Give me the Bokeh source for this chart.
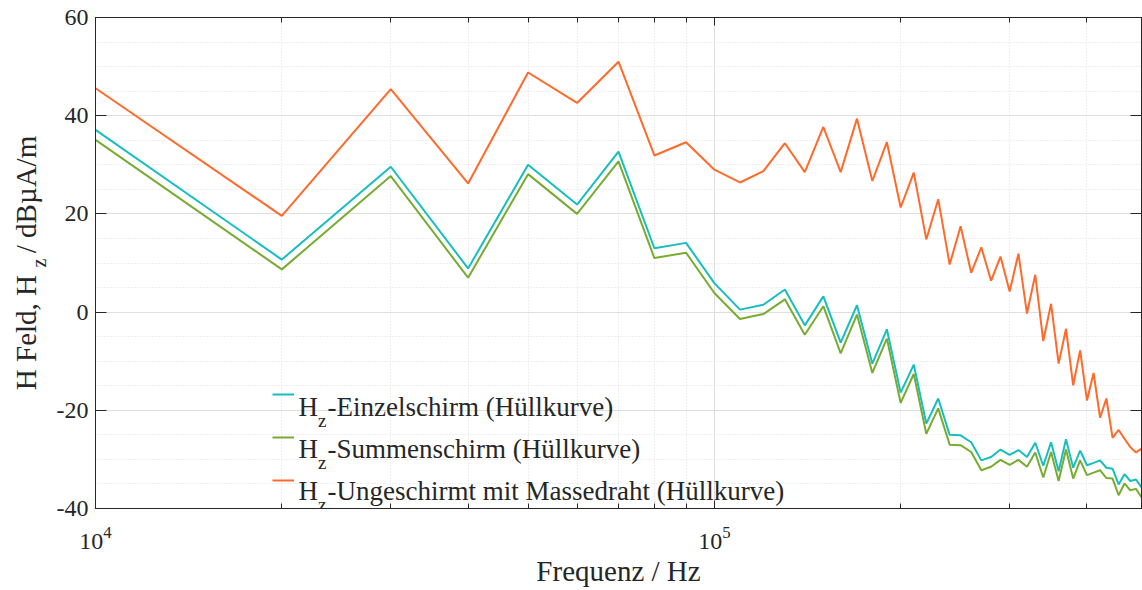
from bokeh.plotting import figure
from bokeh.models import (LogAxis, LinearAxis, Label, Legend, LegendItem,
                          FixedTicker, Range1d, CustomJSTickFormatter)
from bokeh.embed import file_html
from bokeh.resources import INLINE

# ---------------- data ----------------
freq_khz = [10, 20, 30, 40, 50, 60, 70, 80, 90, 100,
            110, 120, 130, 140, 150, 160, 170, 180, 190, 200,
            210, 220, 230, 240, 250, 260, 270, 280, 290, 300,
            310, 320, 330, 340, 350, 360, 370, 380, 390, 400,
            410, 420, 430, 440, 450, 460, 470, 480, 490]

einzelschirm = [37.1, 10.7, 29.6, 8.9, 30.0, 21.9, 32.7, 13.0, 14.1, 5.9,
                0.5, 1.5, 4.6, -2.7, 3.2, -6.2, 1.4, -10.5, -3.5, -16.4,
                -10.7, -22.7, -17.6, -25.0, -25.1, -26.5, -30.2, -29.5, -28.0, -29.1,
                -28.1, -29.5, -26.6, -31.3, -26.5, -32.4, -25.9, -31.7, -28.2, -31.2,
                -30.7, -30.2, -31.7, -31.9, -35.1, -33.0, -34.4, -34.1, -35.7]

summenschirm = [35.1, 8.7, 27.7, 7.0, 28.1, 20.0, 30.7, 11.0, 12.1, 3.9,
                -1.4, -0.4, 2.6, -4.6, 1.2, -8.4, -0.5, -12.4, -5.4, -18.5,
                -12.6, -24.8, -19.6, -27.0, -27.1, -28.5, -32.2, -31.5, -30.1, -31.1,
                -30.1, -31.5, -28.6, -33.7, -28.5, -34.4, -28.0, -33.9, -30.2, -33.2,
                -32.7, -32.2, -33.8, -33.9, -37.3, -34.9, -36.3, -36.0, -37.7]

ungeschirmt = [45.6, 19.6, 45.4, 26.2, 48.8, 42.6, 51.0, 31.9, 34.6, 29.0,
               26.4, 28.7, 34.4, 28.5, 37.7, 28.5, 39.4, 26.7, 34.6, 21.3,
               28.4, 14.8, 23.0, 9.7, 17.5, 8.0, 13.2, 6.4, 11.3, 4.2,
               11.9, -0.3, 7.6, -5.9, 1.7, -10.5, -3.4, -14.9, -7.8, -18.0,
               -12.4, -21.5, -17.6, -25.6, -24.0, -25.8, -27.5, -28.6, -27.8]

legend_main = ["H", "H", "H"]
legend_sub = ["z", "z", "z"]
legend_rest = ["-Einzelschirm (Hüllkurve)",
               "-Summenschirm (Hüllkurve)",
               "-Ungeschirmt mit Massedraht (Hüllkurve)"]
series_colors = ["#17BEBF", "#77AC30", "#FF6A2A"]

y_major_ticks = [-40, -20, 0, 20, 40, 60]
y_minor_ticks = [-35, -30, -25, -15, -10, -5, 5, 10, 15, 25, 30, 35, 45, 50, 55]
x_major_ticks = [1e4, 1e5]
x_minor_ticks = [2e4, 3e4, 4e4, 5e4, 6e4, 7e4, 8e4, 9e4, 2e5, 3e5, 4e5]

ylabel_main = "H Feld, H\u00a0\u00a0\u00a0/ dBµA/m"
ylabel_sub = "z"
xlabel = "Frequenz / Hz"

# ---------------- styles ----------------
FONT = "Liberation Serif"
TXT = "#262626"
GRID = "#DEDEDE"

freq_hz = [f * 1000 for f in freq_khz]

p = figure(width=1142, height=590, x_axis_type="log",
           x_range=Range1d(1e4, 4.9e5), y_range=Range1d(-40, 60),
           output_backend="svg", toolbar_location=None,
           min_border_left=95, min_border_right=1,
           min_border_top=17, min_border_bottom=82)
p.background_fill_color = "white"
p.border_fill_color = "white"
p.outline_line_color = TXT
p.outline_line_width = 1

xt = FixedTicker(ticks=x_major_ticks, minor_ticks=x_minor_ticks)
yt = FixedTicker(ticks=y_major_ticks, minor_ticks=y_minor_ticks)

xb = p.below[0]
xb.ticker = xt
yl = p.left[0]
yl.ticker = yt
yl.formatter = CustomJSTickFormatter(code="return String(tick)")

for ax in (xb, yl):
    ax.axis_line_color = TXT
    ax.major_tick_line_color = TXT
    ax.minor_tick_line_color = TXT
    ax.major_label_text_font = FONT
    ax.major_label_text_font_size = "24px"
    ax.major_label_text_color = TXT
    ax.major_tick_out = 0

xb.major_tick_in = 8
xb.minor_tick_in = 5
xb.minor_tick_out = 0
xb.major_label_standoff = 18
xb.axis_label = xlabel
xb.axis_label_text_font = FONT
xb.axis_label_text_font_size = "29px"
xb.axis_label_text_font_style = "normal"
xb.axis_label_text_color = TXT
xb.axis_label_standoff = 3

yl.major_tick_in = 11
yl.minor_tick_in = 0
yl.minor_tick_out = 0
yl.major_label_standoff = 7
# subscript "z" of the y label, carried by the inner axis
yl.axis_label = ylabel_sub
yl.axis_label_text_font = FONT
yl.axis_label_text_font_size = "20px"
yl.axis_label_text_font_style = "normal"
yl.axis_label_text_color = TXT
yl.axis_label_standoff = 4

# outer left axis carrying the main part of the y label
yl2 = LinearAxis(ticker=FixedTicker(ticks=[]),
                 formatter=CustomJSTickFormatter(code="return ''"),
                 axis_line_color=None, major_tick_line_color=None,
                 minor_tick_line_color=None,
                 major_tick_in=0, major_tick_out=0,
                 minor_tick_in=0, minor_tick_out=0,
                 major_label_standoff=0, major_label_text_font_size="1px",
                 axis_label=ylabel_main, axis_label_text_font=FONT,
                 axis_label_text_font_size="29px",
                 axis_label_text_font_style="normal",
                 axis_label_text_color=TXT, axis_label_standoff=-17)
p.add_layout(yl2, "left")

# top and right axes (box with inward ticks, no labels)
top_ax = LogAxis(ticker=xt, formatter=CustomJSTickFormatter(code="return ''"),
                 major_tick_in=8, major_tick_out=0,
                 minor_tick_in=5, minor_tick_out=0,
                 major_label_standoff=0, major_label_text_font_size="1px",
                 axis_line_color=TXT, major_tick_line_color=TXT,
                 minor_tick_line_color=TXT)
p.add_layout(top_ax, "above")
right_ax = LinearAxis(ticker=FixedTicker(ticks=y_major_ticks),
                      formatter=CustomJSTickFormatter(code="return ''"),
                      major_tick_in=11, major_tick_out=0,
                      minor_tick_in=0, minor_tick_out=0,
                      major_label_standoff=0, major_label_text_font_size="1px",
                      axis_line_color=TXT, major_tick_line_color=TXT)
p.add_layout(right_ax, "right")

# grids
p.xgrid.grid_line_color = GRID
p.xgrid.grid_line_width = 1
p.xgrid.minor_grid_line_color = GRID
p.xgrid.minor_grid_line_dash = "1 2"
p.ygrid.grid_line_color = GRID
p.ygrid.grid_line_width = 1
p.ygrid.minor_grid_line_color = GRID
p.ygrid.minor_grid_line_dash = "1 2"

# ---------------- lines ----------------
renderers = []
for vals, col in zip([einzelschirm, summenschirm, ungeschirmt], series_colors):
    r = p.line(freq_hz, vals, line_color=col, line_width=2)
    renderers.append(r)

# legend swatches
legend = Legend(items=[LegendItem(label=" ", renderers=[r]) for r in renderers],
                location=(177, 17), padding=0, margin=0, spacing=21,
                glyph_width=22, glyph_height=22, label_height=22,
                label_standoff=0, label_text_font_size="6px",
                background_fill_alpha=0, border_line_alpha=0)
p.add_layout(legend)

# legend texts with subscripts
row_base = [102, 59.5, 18]
for main, sub, rest, yb in zip(legend_main, legend_sub, legend_rest, row_base):
    p.add_layout(Label(x=203, y=yb, x_units="screen", y_units="screen", text=main,
                       text_font=FONT, text_font_size="27px", text_color=TXT,
                       text_align="left", text_baseline="alphabetic"))
    p.add_layout(Label(x=222.5, y=yb - 13.5, x_units="screen", y_units="screen", text=sub,
                       text_font=FONT, text_font_size="19px", text_color=TXT,
                       text_align="left", text_baseline="alphabetic"))
    p.add_layout(Label(x=232, y=yb, x_units="screen", y_units="screen", text=rest,
                       text_font=FONT, text_font_size="27px", text_color=TXT,
                       text_align="left", text_baseline="alphabetic"))

open("out.html", "w").write(file_html(p, INLINE))
